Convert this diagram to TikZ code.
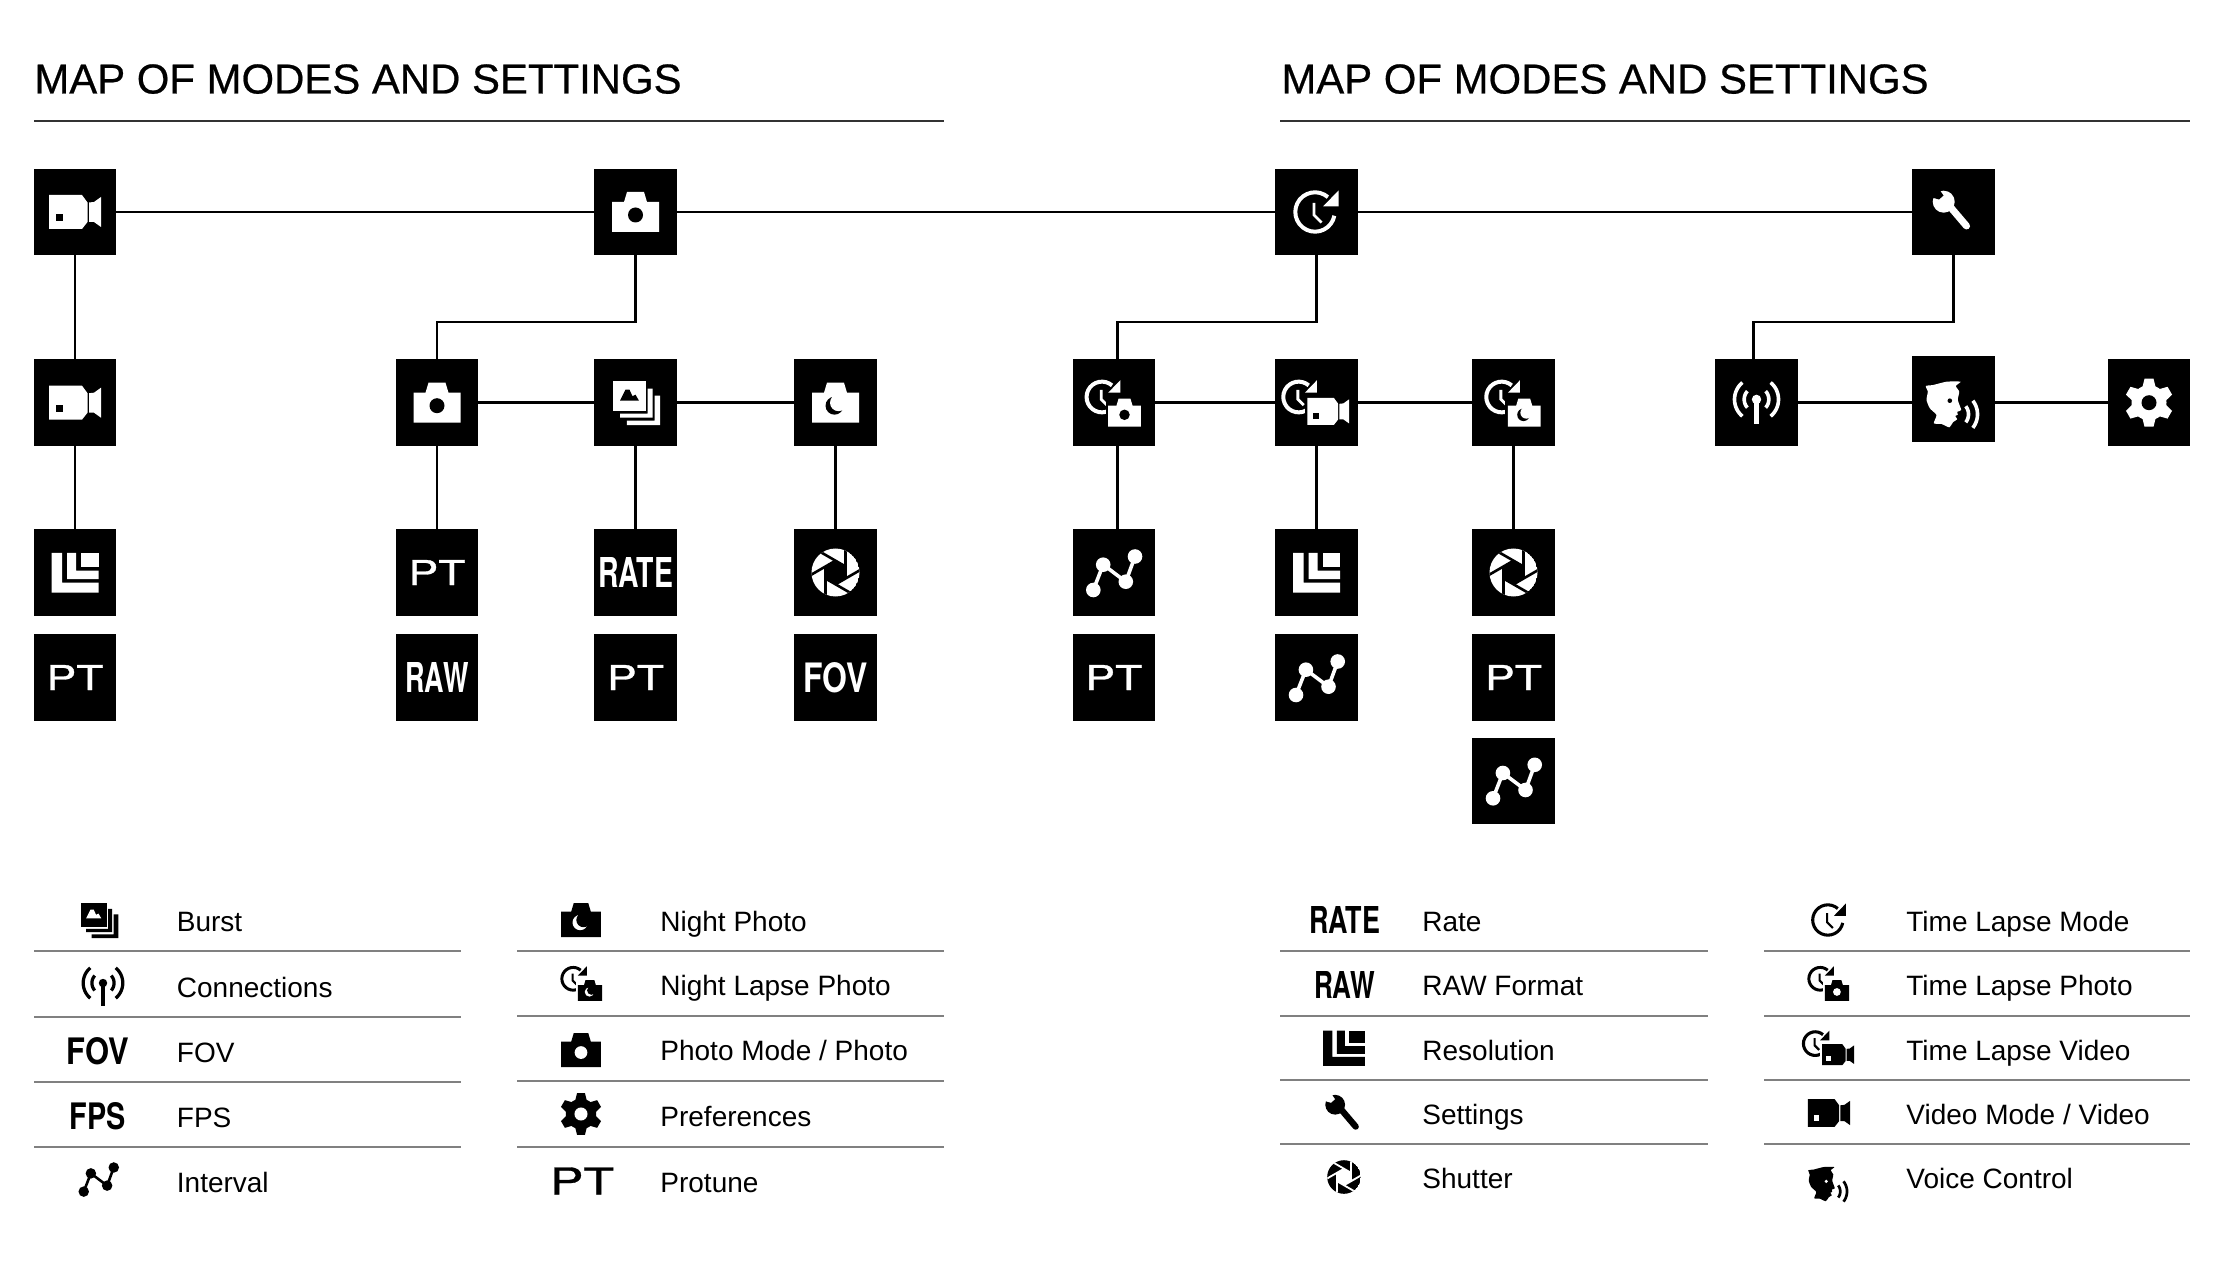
\documentclass[tikz,border=0pt]{standalone}
\usepackage{graphicx}
\usepackage{fontspec}
\setmainfont{Liberation Sans}
\setsansfont{TeX Gyre Heros}
\newfontfamily\ttlf[FakeBold=0.5]{Liberation Sans}
\newfontfamily\ptf[FakeBold=0.8]{TeX Gyre Heros}
\newcommand\iarc[5]{plot[domain=#4:#5,samples=24,variable=\t] ({#1+#3*cos(\t)},{#2+#3*sin(\t)})}
\def\icfg{white}\def\icbg{black}\def\ics{1}
\tikzset{
  x=0.5pt,y=-0.5pt,
  box/.style={fill=black,text=white,minimum width=41.2pt,minimum height=43.2pt,inner sep=0pt,outer sep=0pt},
  conn/.style={draw=black,line width=1.4pt},
  rule/.style={draw=black!50,line width=.75pt},
  titlerule/.style={draw=black!80,line width=.75pt},
  ttl/.style={anchor=base west,inner sep=0pt,font=\ttlf\fontsize{20.95}{24}\selectfont},
  lab/.style={anchor=base west,inner sep=0pt,font=\fontsize{14}{18}\selectfont},
  lic/.style={inner sep=0pt,text=black},
  ifg/.style={fill=\icfg},
  ibg/.style={fill=\icbg},
  ilin/.style={draw=\icfg,line width={\ics*1.8pt}},
  ibl/.style={draw=\icbg,line width={\ics*1.3pt}},
}
\newcommand\lbl[3]{\resizebox{#1pt}{#2pt}{\sffamily\bfseries #3}}
\newcommand\lbr[3]{\resizebox{#1pt}{#2pt}{\ptf #3}}
% icon drawings, in px, centred
\newcommand\dVid{%
  \fill[ifg] (-26,-17)--(7,-17)--(12.5,-9.5)--(12.5,10)--(7,17)--(-26,17)--cycle;
  \fill[ifg] (14,-9.5)--(19,-10)--(26,-15)--(26,15)--(19,10)--(14,10)--cycle;
  \fill[ibg] (-19,2) rectangle (-12,9.5);
}
\newcommand\dCamBody{%
  \fill[ifg] (-23.5,-10)--(-11.5,-10)--(-8.5,-20)--(8.5,-20)--(11.5,-10)--(23.5,-10)--(23.5,20)--(-23.5,20)--cycle;
}
\newcommand\dCam{\dCamBody\fill[ibg] (0,3) circle (7.5);}
\newcommand\dNight{\dCamBody\fill[ibg] (-1,3) circle (9);\fill[ifg] (3,0) circle (8.5);}
\newcommand\dBurst{%
  \fill[ifg] (-22.5,-21.7) rectangle (10,8.7);
  \fill[ibg] (-15.5,-2)--(-10,-13)--(-6,-13)--(-3,-6.5)--(0,-8)--(3.5,-2)--cycle;
  \fill[ifg] (-15.5,11)--(12,11)--(12,-14)--(17,-14)--(17,15)--(-15.5,15)--cycle;
  \fill[ifg] (-8.6,18)--(19,18)--(19,-7)--(24.7,-7)--(24.7,22.5)--(-8.6,22.5)--cycle;
}
\newcommand\dRes{%
  \fill[ifg] (-23.5,-19.5)--(-13,-19.5)--(-13,10)--(23.5,10)--(23.5,20)--(-23.5,20)--cycle;
  \fill[ifg] (-8,-19.5)--(1,-19.5)--(1,-2)--(23.5,-2)--(23.5,6.5)--(-8,6.5)--cycle;
  \fill[ifg] (6,-19.5) rectangle (23.5,-6);
}
\newcommand\dShut{%
  \begin{scope}
    \clip (0,0) circle (24);
    \fill[ifg] (0,0) circle (24);
    \fill[ibg] (30:11.8)--(90:11.8)--(150:11.8)--(210:11.8)--(270:11.8)--(330:11.8)--cycle;
    \foreach \a in {30,90,...,330}
      \draw[ibl] ({11.8*cos(\a)},{11.8*sin(\a)})--({11.8*cos(\a)+30*cos(\a-120)},{11.8*sin(\a)+30*sin(\a-120)});
  \end{scope}
}
\newcommand\dIntv{%
  \draw[ilin] (-20.5,17.5)--(-10.6,-7.8)--(12,9.2)--(21.2,-16);
  \fill[ifg] (-20.5,17.5) circle (7.3) (-10.6,-7.8) circle (7.3) (12,9.2) circle (7.3) (21.2,-16) circle (7.3);
}
\newcommand\dClock{%
  \draw[ilin,line width={\ics*2pt}] \iarc{-1.5}{0}{19.7}{-349}{-49};
  \fill[ifg] (22,-21.5)--(22,-5.5)--(6.5,-5.5)--cycle;
  \draw[ilin,line width={\ics*1.4pt}] (-2.5,-9)--(-2.5,3)--(5,10.5);
}
\newcommand\dTLP{%
  \begin{scope}[shift={(-10.7,-5.7)},scale=.78]\dClock\end{scope}
  \begin{scope}[shift={(10.7,10)},scale=.7]
    \fill[ibg] (-27,-23) rectangle (27,24);\dCam
  \end{scope}
}
\newcommand\dTLN{%
  \begin{scope}[shift={(-10.7,-5.7)},scale=.78]\dClock\end{scope}
  \begin{scope}[shift={(10.7,10)},scale=.7]
    \fill[ibg] (-27,-23) rectangle (27,24);\dNight
  \end{scope}
}
\newcommand\dTLV{%
  \begin{scope}[shift={(-16.7,-5.7)},scale=.78]\dClock\end{scope}
  \begin{scope}[shift={(11.7,8.7)},scale=.8]
    \fill[ibg] (-29,-21) rectangle (29,21);\dVid
  \end{scope}
}
\newcommand\dWrench{%
  \draw[ilin,line width={\ics*3.5pt},line cap=round] (-4,-6)--(13,14);
  \fill[ifg] (-9.8,-10.3) circle (11);
  \fill[ibg] (-13.5,-21.5)--(-10,-16.5)--(-14.5,-12.5)--(-21.5,-14.5)--(-27,-27)--cycle;
}
\newcommand\dAnt{%
  \fill[ifg] (0,-3.3) circle (4.7);
  \fill[ifg] (-2.2,-3) rectangle (2.2,21.7);
  \draw[ilin] \iarc{0}{-3.3}{12.3}{-42}{42};
  \draw[ilin] \iarc{0}{-3.3}{12.3}{138}{222};
  \draw[ilin] \iarc{0}{-3.3}{22}{-50}{50};
  \draw[ilin] \iarc{0}{-3.3}{22}{130}{230};
}
\newcommand\dGear{%
  \fill[ifg] (0,0) circle (17.5);
  \foreach \a in {0,60,...,300}
    \fill[ifg,rotate=\a] (-7,14)--(-4.5,24)--(4.5,24)--(7,14)--cycle;
  \fill[ibg] (0,0) circle (7.5);
}
\newcommand\dVoice{%
  \fill[ifg] plot[smooth cycle,tension=.35] coordinates {(-27.7,-13) (-20.3,-14) (-7,-17.3) (7,-17.3) (2.3,-13) (5.7,-7.3) (4.3,1) (7.7,11) (3.7,12.7) (4.3,15.7) (1.7,17) (3.7,20.3) (-0.3,23) (-4.3,28.3) (-12,25) (-19.7,24.3) (-17,16) (-23.7,9.3) (-27,1) (-25.7,-7.3)};
  \fill[ibg] (-3.7,1.7) circle (2.3);
  \draw[ilin] \iarc{2}{15.3}{13}{-38}{38};
  \draw[ilin] \iarc{2}{15.3}{22}{-38}{38};
}
\newcommand\iconin[2]{\begin{scope}[shift={(#1)}]#2\end{scope}}
\newcommand\legi[4]{\begin{scope}[shift={(#2,#3)},scale=#4]\def\ics{#4}#1\end{scope}}
\begin{document}
\begin{tikzpicture}
\useasboundingbox (0,0) rectangle (2239,1267);
\fill[white] (0,0) rectangle (2239,1267);
% titles
\node[ttl] (t1) at (34,93.5) {MAP OF MODES AND SETTINGS};
\node[ttl] (t2) at (1281,93.5) {MAP OF MODES AND SETTINGS};
\coordinate (r1a) at (34,121);\coordinate (r1b) at (944,121);
\coordinate (r2a) at (1280,121);\coordinate (r2b) at (2190,121);
\draw[titlerule] (r1a)--(r1b);
\draw[titlerule] (r2a)--(r2b);
% top row
\node[box] (video) at (75,212) {};
\node[box] (photo) at (635.5,212) {};
\node[box] (tl) at (1316.5,212) {};
\node[box] (set) at (1953.5,212) {};
% second row
\node[box] (video2) at (75,402.7) {};
\node[box] (photo2) at (437,402.7) {};
\node[box] (burst) at (635.5,402.7) {};
\node[box] (night) at (835.5,402.7) {};
\node[box] (tlp) at (1113.8,402.7) {};
\node[box] (tlv) at (1316.5,402.7) {};
\node[box] (tln) at (1513.5,402.7) {};
\node[box] (con) at (1756.5,402.7) {};
\node[box] (voice) at (1953.5,399) {};
\node[box] (pref) at (2149,402.7) {};
% third row
\node[box] (res1) at (75,572.5) {};
\node[box] (pt2) at (437,572.5) {\lbr{28.5}{12.5}{PT}};
\node[box] (rate) at (635.5,572.5) {\lbl{37.5}{15}{RATE}};
\node[box] (sh1) at (835.5,572.5) {};
\node[box] (iv1) at (1113.8,572.5) {};
\node[box] (res2) at (1316.5,572.5) {};
\node[box] (sh2) at (1513.5,572.5) {};
% fourth row
\node[box] (pt1) at (75,677.5) {\lbr{28.5}{12.5}{PT}};
\node[box] (raw) at (437,677.5) {\lbl{31.5}{15}{RAW}};
\node[box] (pt3) at (635.5,677.5) {\lbr{28.5}{12.5}{PT}};
\node[box] (fov) at (835.5,677.5) {\lbl{32}{15}{FOV}};
\node[box] (pt4) at (1113.8,677.5) {\lbr{28.5}{12.5}{PT}};
\node[box] (iv2) at (1316.5,677.5) {};
\node[box] (pt5) at (1513.5,677.5) {\lbr{28.5}{12.5}{PT}};
\node[box] (iv3) at (1513.5,780.8) {};
% icons
\iconin{video}{\dVid}\iconin{video2}{\dVid}
\iconin{photo}{\dCam}\iconin{photo2}{\dCam}
\iconin{tl}{\dClock}\iconin{set}{\dWrench}
\iconin{burst}{\dBurst}\iconin{night}{\dNight}
\iconin{tlp}{\dTLP}\iconin{tlv}{\dTLV}\iconin{tln}{\dTLN}
\iconin{con}{\dAnt}\iconin{voice}{\dVoice}\iconin{pref}{\dGear}
\iconin{res1}{\dRes}\iconin{res2}{\dRes}
\iconin{sh1}{\dShut}\iconin{sh2}{\dShut}
\iconin{iv1}{\dIntv}\iconin{iv2}{\dIntv}\iconin{iv3}{\dIntv}
% connectors
\draw[conn] (video)--(photo);
\draw[conn] (photo)--(tl);
\draw[conn] (tl)--(set);
\draw[conn] (video)--(video2);
\draw[conn] (video2)--(res1);
\coordinate (b1) at (536,322);
\coordinate (b2) at (1215,322);
\coordinate (b3) at (1853,322);
\draw[conn] (photo.south)--(photo.south |- b1)--(photo2.north |- b1)--(photo2.north);
\draw[conn] (tl.south)--(tl.south |- b2)--([xshift=1.8pt]tlp.north |- b2)--([xshift=1.8pt]tlp.north);
\draw[conn] (set.south)--(set.south |- b3)--([xshift=-1.5pt]con.north |- b3)--([xshift=-1.5pt]con.north);
\draw[conn] (photo2)--(burst);
\draw[conn] (burst)--(night);
\draw[conn] (tlp)--(tlv);
\draw[conn] (tlv)--(tln);
\draw[conn] (con.east)--(con.east -| voice.west);
\draw[conn] (pref.west)--(pref.west -| voice.east);
\draw[conn] (photo2)--(pt2);
\draw[conn] (burst)--(rate);
\draw[conn] (night)--(sh1);
\draw[conn] ([xshift=1.8pt]tlp.south)--([xshift=1.8pt]iv1.north);
\draw[conn] (tlv)--(res2);
\draw[conn] (tln)--(sh2);
% legend rules
\foreach \n/\y in {a/951,b/1017,c/1082,d/1147} {
  \coordinate (la\n) at (34,\y);\coordinate (lb\n) at (461,\y);
  \draw[rule] (la\n)--(lb\n);}
\foreach \n/\y in {a/951,b/1016,c/1081,d/1147} {
  \coordinate (la\n) at (517,\y);\coordinate (lb\n) at (944,\y);
  \draw[rule] (la\n)--(lb\n);}
\foreach \n/\y in {a/951,b/1016,c/1080,d/1144} {
  \coordinate (la\n) at (1280,\y);\coordinate (lb\n) at (1708,\y);
  \draw[rule] (la\n)--(lb\n);
  \coordinate (la\n) at (1764,\y);\coordinate (lb\n) at (2190,\y);
  \draw[rule] (la\n)--(lb\n);}
% legend labels
\node[lab] (a1) at (176.5,931) {Burst};
\node[lab] (a2) at (176.5,997) {Connections};
\node[lab] (a3) at (176.5,1062) {FOV};
\node[lab] (a4) at (176.5,1127) {FPS};
\node[lab] (a5) at (176.5,1192) {Interval};
\node[lab] (b1t) at (660,931) {Night Photo};
\node[lab] (b2t) at (660,995.5) {Night Lapse Photo};
\node[lab] (b3t) at (660,1060) {Photo Mode / Photo};
\node[lab] (b4t) at (660,1126) {Preferences};
\node[lab] (b5t) at (660,1192) {Protune};
\node[lab] (c1) at (1422,931) {Rate};
\node[lab] (c2) at (1422,995.5) {RAW Format};
\node[lab] (c3) at (1422,1060) {Resolution};
\node[lab] (c4) at (1422,1124) {Settings};
\node[lab] (c5) at (1422,1188.5) {Shutter};
\node[lab] (d1) at (1906,931) {Time Lapse Mode};
\node[lab] (d2) at (1906,995.5) {Time Lapse Photo};
\node[lab] (d3) at (1906,1060) {Time Lapse Video};
\node[lab] (d4) at (1906,1124) {Video Mode / Video};
\node[lab] (d5) at (1906,1188.5) {Voice Control};
% legend text icons
\node[lic] (lfov) at (98,1051) {\lbl{31}{13.5}{FOV}};
\node[lic] (lfps) at (98,1116) {\lbl{28}{13.5}{FPS}};
\node[lic] (lpt) at (582,1181) {\lbr{32}{13.5}{PT}};
\node[lic] (lrate) at (1344.5,920) {\lbl{35.5}{13.5}{RATE}};
\node[lic] (lraw) at (1344.5,985) {\lbl{30.5}{13.5}{RAW}};
% legend icons
\def\icfg{black}\def\icbg{white}
\legi{\dBurst}{98.5}{920}{.8}
\legi{\dAnt}{103}{986}{.9}
\legi{\dIntv}{98.5}{1179}{.72}
\legi{\dNight}{581}{920}{.85}
\legi{\dTLN}{582}{983}{.74}
\legi{\dCam}{581}{1050}{.85}
\legi{\dGear}{581}{1114}{.87}
\legi{\dRes}{1344}{1048}{.89}
\legi{\dWrench}{1344}{1114}{.9}
\legi{\dShut}{1344}{1177}{.7}
\legi{\dClock}{1829}{920}{.77}
\legi{\dTLP}{1829}{983}{.74}
\legi{\dTLV}{1829}{1048}{.77}
\legi{\dVid}{1829}{1113}{.81}
\legi{\dVoice}{1829}{1180}{.75}
\end{tikzpicture}
\end{document}
